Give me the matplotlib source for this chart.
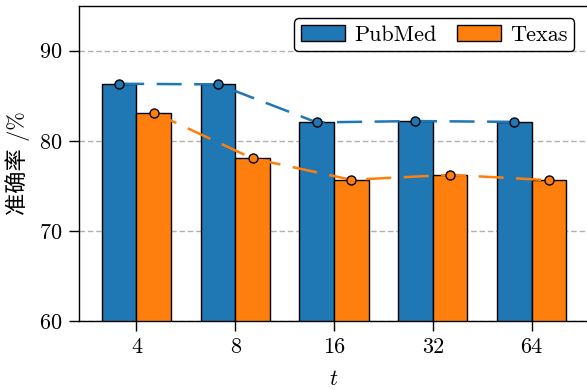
import numpy as np
import matplotlib
matplotlib.use("Agg")
import matplotlib.pyplot as plt

# accuracy (%) for each t
t_labels = ["4", "8", "16", "32", "64"]
pubmed = [86.33, 86.26, 82.04, 82.19, 82.10]
texas = [83.14, 78.04, 75.67, 76.22, 75.63]

blue = "#1f77b4"
orange = "#ff7f0e"

plt.rcParams["font.family"] = ["cmr10", "Noto Sans CJK SC"]
plt.rcParams["mathtext.fontset"] = "cm"
plt.rcParams["axes.formatter.use_mathtext"] = True
plt.rcParams["font.size"] = 16

fig = plt.figure(figsize=(5.87, 3.90), dpi=100)
ax = fig.add_axes([0.134, 0.177, 0.870, 0.8085])

x = np.arange(len(t_labels))
w = 0.35

ax.bar(x - w / 2, pubmed, w, color=blue, edgecolor="black", linewidth=1.0,
       label="PubMed", zorder=2)
ax.bar(x + w / 2, texas, w, color=orange, edgecolor="black", linewidth=1.0,
       label="Texas", zorder=2)

# trend lines through the bar tops
ax.plot(x - w / 2, pubmed, color=blue, lw=1.8, dashes=(10, 5), zorder=3)
ax.plot(x - w / 2, pubmed, "o", color=blue, mec="black", mew=1.0, ms=6.5, zorder=4)
ax.plot(x + w / 2, texas, color=orange, lw=1.8, dashes=(10, 5), zorder=3)
ax.plot(x + w / 2, texas, "o", color=orange, mec="black", mew=1.0, ms=6.5, zorder=4)

ax.set_ylim(60, 95)
ax.set_yticks([60, 70, 80, 90])
ax.set_xticks(x)
ax.set_xticklabels(t_labels)
ax.tick_params(length=7, width=1.0, pad=5)
ax.yaxis.grid(True, linestyle=(0, (4, 2)), color="#b0b0b0", lw=1.0, zorder=0)
ax.set_axisbelow(True)
for s in ax.spines.values():
    s.set_linewidth(1.0)

ax.set_xlabel("$t$", labelpad=9)
ax.set_ylabel("准确率 /%", labelpad=6, fontsize=16, fontweight="light")

leg = ax.legend(loc="upper right", ncol=2, frameon=True, fancybox=True,
                edgecolor="black", framealpha=1.0, borderaxespad=0.5,
                columnspacing=0.9, handletextpad=0.4, borderpad=0.3,
                bbox_to_anchor=(0.992, 0.995))
leg.get_frame().set_linewidth(1.0)

fig.savefig("out.png", dpi=100)
